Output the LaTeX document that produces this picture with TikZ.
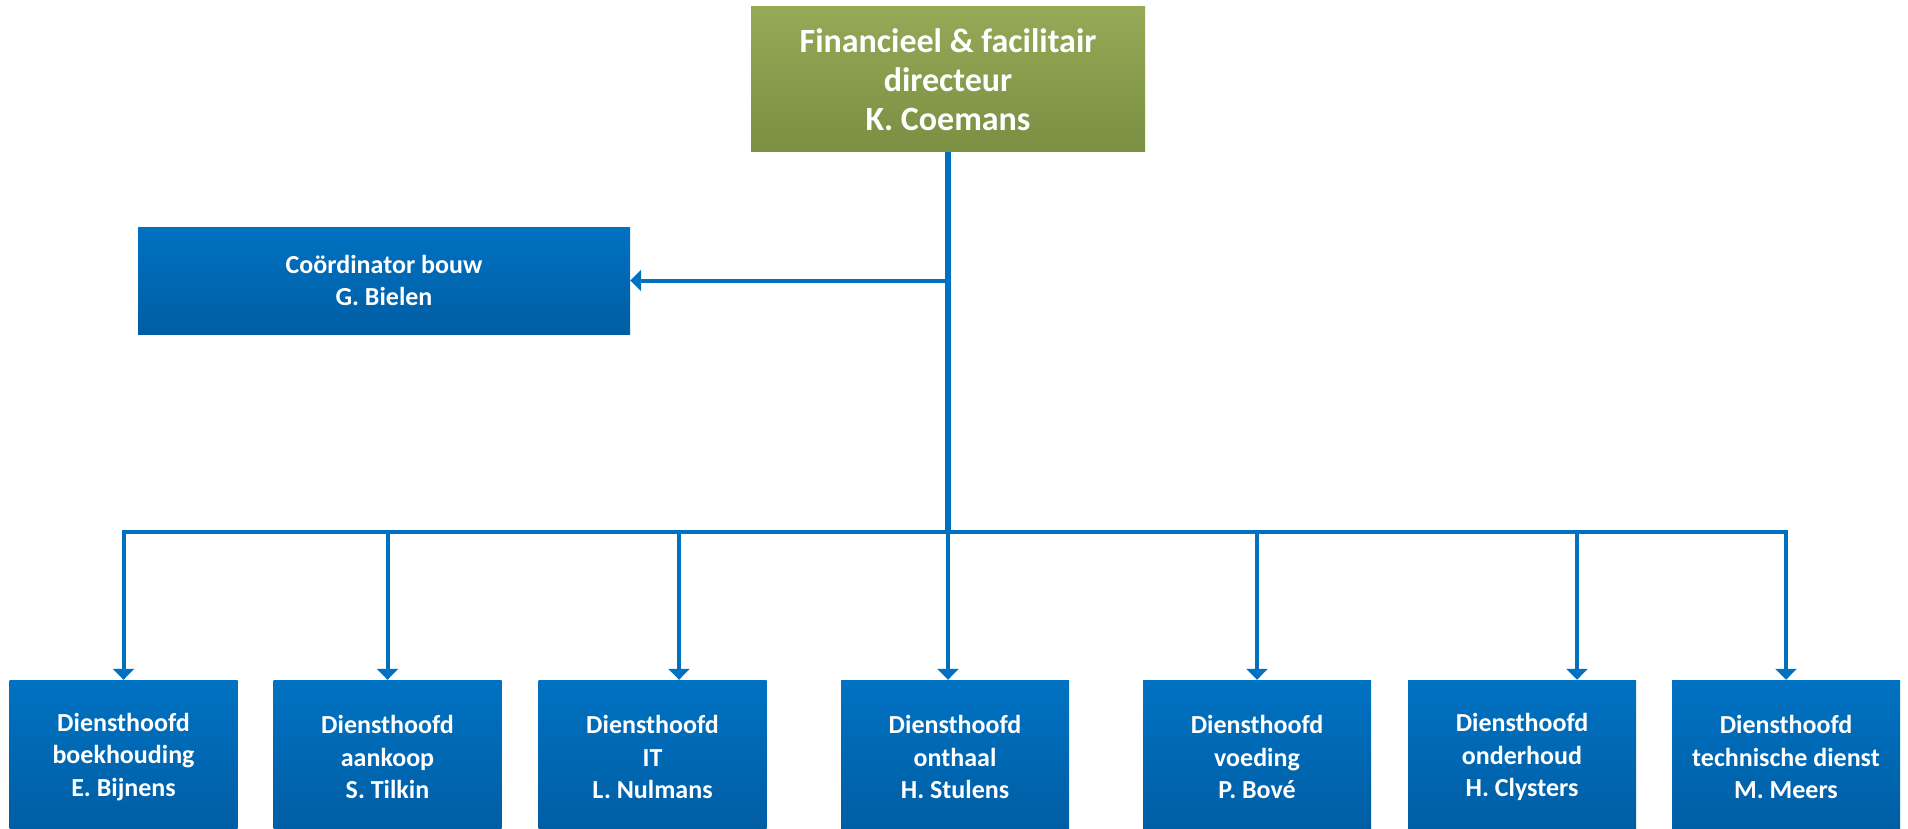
\documentclass[tikz,border=0pt]{standalone}
\usepackage{fontspec}
\setmainfont{Carlito}
\usetikzlibrary{arrows.meta}
\definecolor{lineblue}{HTML}{0070C0}
\definecolor{boxtop}{HTML}{0072C2}
\definecolor{boxbot}{HTML}{005DA3}
\definecolor{greentop}{HTML}{95A957}
\definecolor{greenbot}{HTML}{7A8F42}
\tikzset{
  bluebox/.style={rectangle, inner sep=0pt, top color=boxtop, bottom color=boxbot, draw=none,
    text=white, align=center, font=\bfseries\fontsize{26}{32.5}\selectfont},
  headbox/.style={rectangle, inner sep=0pt, top color=greentop, bottom color=greenbot, draw=none,
    text=white, align=center, minimum width=394pt, minimum height=145pt,
    font=\bfseries\fontsize{34}{39}\selectfont},
  lowbox/.style={bluebox, minimum width=228pt, minimum height=154pt},
  conn/.style={draw=lineblue, line width=4pt},
  arr/.style={conn, -{Triangle[width=21pt,length=11pt]}},
  trunkline/.style={draw=lineblue, line width=6pt},
}
\begin{document}
\begin{tikzpicture}[x=1pt,y=-1pt]
\useasboundingbox (0,0) rectangle (1908,829);
\fill[white] (0,0) rectangle (1908,829);

\node[headbox] (top) at (948,79.5) {Financieel \& facilitair\\directeur\\K. Coemans};
\node[bluebox, minimum width=492pt, minimum height=107pt] (coord) at (384,280.5) {Coördinator bouw\\G. Bielen};

\node[lowbox] (b1) at (123.5,757) {Diensthoofd\\boekhouding\\E. Bijnens};
\node[lowbox] (b2) at (387.5,757) {Diensthoofd\\aankoop\\S. Tilkin};
\node[lowbox] (b3) at (652.5,757) {Diensthoofd\\IT\\L. Nulmans};
\node[lowbox] (b4) at (955,757) {Diensthoofd\\onthaal\\H. Stulens};
\node[lowbox] (b5) at (1257,757) {Diensthoofd\\voeding\\P. Bové};
\node[lowbox] (b6) at (1522,757) {Diensthoofd\\onderhoud\\H. Clysters};
\node[lowbox] (b7) at (1786,757) {Diensthoofd\\technische dienst\\M. Meers};

\coordinate (j) at (top.south |- 0,532);
\coordinate (jc) at (top.south |- coord.east);

\draw[trunkline] (top.south) -- (j);
\draw[arr] (jc) -- (coord.east);

\draw[arr] (j) -| (b1.north);
\draw[arr] (j) -| (b2.north);
\draw[arr] (j) -| ([xshift=26.5pt]b3.north);
\draw[arr] (j) -- (j |- b4.north);
\draw[arr] (j) -| (b5.north);
\draw[arr] (j) -| ([xshift=55pt]b6.north);
\draw[arr] (j) -| (b7.north);
\end{tikzpicture}
\end{document}
